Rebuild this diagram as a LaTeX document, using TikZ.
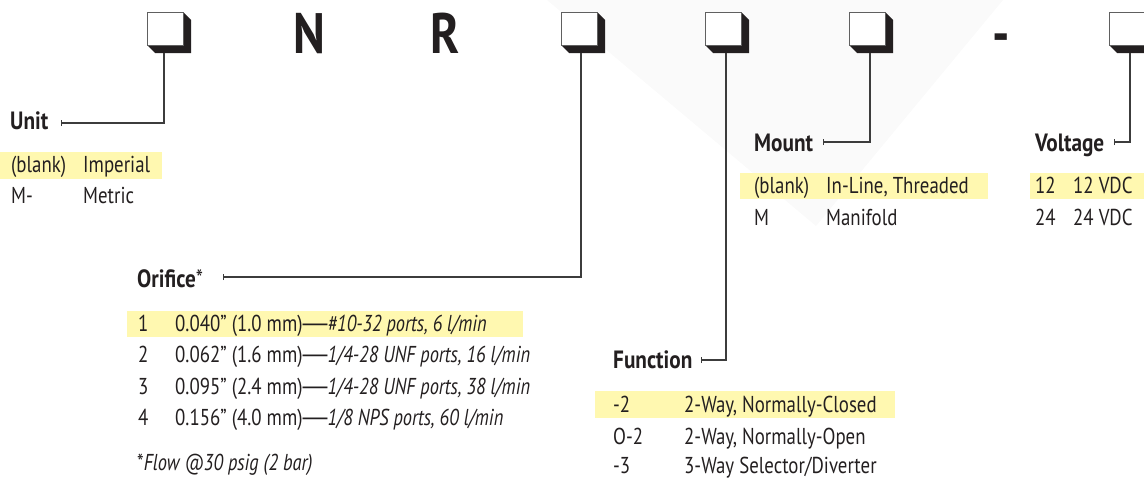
\documentclass[tikz,border=0pt]{standalone}
\usepackage{fontspec}
\setmainfont{PT Sans}[FakeStretch=0.82,ItalicFeatures={FakeStretch=0.8},BoldFeatures={FakeStretch=0.85}]
\usetikzlibrary{arrows.meta}
\definecolor{ink}{RGB}{35,31,32}
\definecolor{linec}{RGB}{60,60,60}
\definecolor{hly}{RGB}{255,248,176}
\definecolor{bgtri}{RGB}{250,250,250}
\newcommand{\codebox}[3]{% name, left x, line x
  \fill[ink] (#2,45) -- (#2+36,45) -- (#2+36,12) -- (#2+44,20) -- (#2+44,53) -- (#2+8,53) -- cycle;
  \node[boxn] (#1) at (#2+18,28.5) {};
  \coordinate (#1b) at (#3,53);
}
\newcommand{\emd}{\kern-5pt\resizebox{35pt}{\height}{—}\kern-5pt}
\begin{document}
\begin{tikzpicture}[x=1pt,y=-1pt,
  boxn/.style={draw=gray!75!black,fill=white,line width=1pt,minimum width=36pt,minimum height=33pt,inner sep=0pt},
  big/.style={font=\fontsize{57}{60}\selectfont\bfseries,text=ink,anchor=base west,inner sep=0pt},
  lbl/.style={font=\fontsize{25}{28}\selectfont\bfseries,text=ink,anchor=base west,inner sep=0pt},
  txt/.style={font=\fontsize{23}{28}\selectfont,text=ink,anchor=base west,inner sep=0pt},
  hl/.style={fill=hly},
  conn/.style={draw=linec,line width=1.2pt,{Bar[width=6pt,line width=1.2pt]}-}
]
\useasboundingbox (0,0) rectangle (1144,479);
\clip (0,0) rectangle (1144,479);
\fill[bgtri] (547,0) -- (1003,0) -- (816,226) -- cycle;

% highlights
\fill[hl] (0,152) rectangle (162,179);
\fill[hl] (127,311) rectangle (523,337);
\fill[hl] (595,391) rectangle (895,418);
\fill[hl] (740,173) rectangle (988,199);
\fill[hl] (1030,173) rectangle (1144,199);

% code boxes
\codebox{b1}{147}{164}
\codebox{b4}{561}{581}
\codebox{b5}{705}{726}
\codebox{b6}{849}{870}
\codebox{b7}{1109}{1130}
\node[big] (cn) at (293,53) {N};
\node[big] (cr) at (430,53) {R};
\node[big] (cd) at (992,53) {-};

% Unit
\node[lbl] (unit) at (10,129) {Unit};
\coordinate (ut) at (61,123);
\draw[conn] (ut) -| (b1b);
\node[txt] (u1a) at (11,172) {(blank)};
\node[txt] (u1b) at (83,172) {Imperial};
\node[txt] (u2a) at (11,203) {M-};
\node[txt] (u2b) at (83,203) {Metric};

% Orifice
\node[lbl] (ori) at (137,287) {Orifice\textmd{*}};
\coordinate (ot) at (223,277);
\draw[conn] (ot) -| (b4b);
\node[txt] (o1a) at (138,331) {1};
\node[txt] (o1b) at (175,331) {0.040” (1.0 mm)\emd\textit{\#10-32 ports, 6 l/min}};
\node[txt] (o2a) at (138,362) {2};
\node[txt] (o2b) at (175,362) {0.062” (1.6 mm)\emd\textit{1/4-28 UNF ports, 16 l/min}};
\node[txt] (o3a) at (138,394) {3};
\node[txt] (o3b) at (175,394) {0.095” (2.4 mm)\emd\textit{1/4-28 UNF ports, 38 l/min}};
\node[txt] (o4a) at (138,425) {4};
\node[txt] (o4b) at (175,425) {0.156” (4.0 mm)\emd\textit{1/8 NPS ports, 60 l/min}};
\node[txt] (ofn) at (137,470) {*\textit{Flow @30 psig (2 bar)}};

% Function
\node[lbl] (fun) at (613,368) {Function};
\coordinate (ft) at (701,360);
\draw[conn] (ft) -| (b5b);
\node[txt] (f1a) at (613,412) {-2};
\node[txt] (f1b) at (684,412) {2-Way, Normally-Closed};
\node[txt] (f2a) at (613,444) {O-2};
\node[txt] (f2b) at (684,444) {2-Way, Normally-Open};
\node[txt] (f3a) at (613,473) {-3};
\node[txt] (f3b) at (684,473) {3-Way Selector/Diverter};

% Mount
\node[lbl] (mnt) at (754,151) {Mount};
\coordinate (mt) at (823,142);
\draw[conn] (mt) -| (b6b);
\node[txt] (m1a) at (754,193) {(blank)};
\node[txt] (m1b) at (826,193) {In-Line, Threaded};
\node[txt] (m2a) at (754,225) {M};
\node[txt] (m2b) at (826,225) {Manifold};

% Voltage
\node[lbl] (vol) at (1035,151) {Voltage};
\coordinate (vt) at (1114,142);
\draw[conn] (vt) -| (b7b);
\node[txt] (v1a) at (1035,193) {12};
\node[txt] (v1b) at (1073,193) {12 VDC};
\node[txt] (v2a) at (1035,225) {24};
\node[txt] (v2b) at (1073,225) {24 VDC};
\end{tikzpicture}
\end{document}
